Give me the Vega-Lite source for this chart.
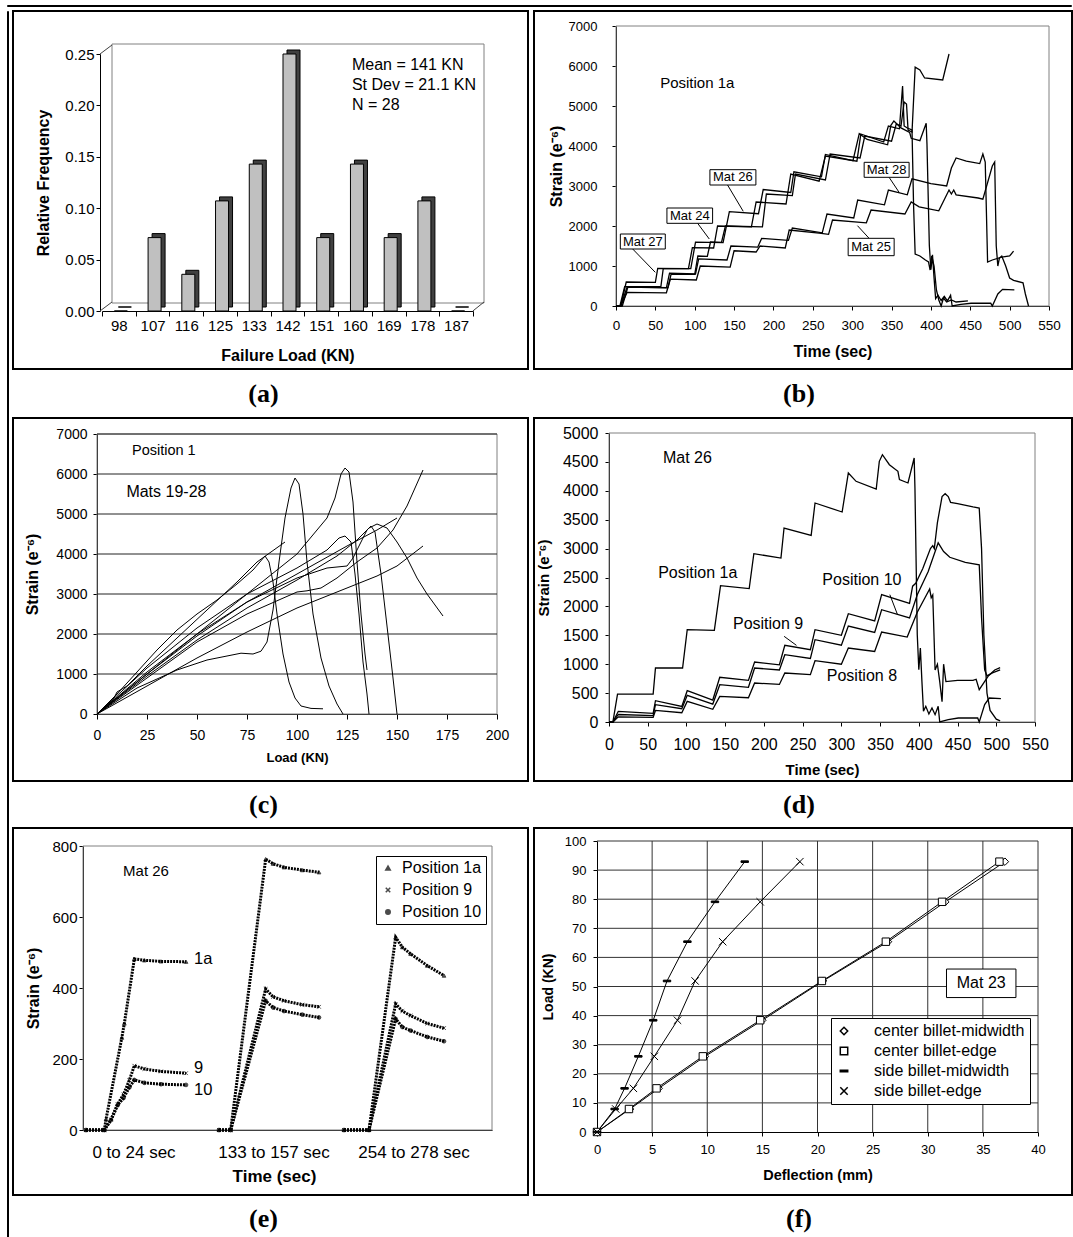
{
"$schema": "https://vega.github.io/schema/vega-lite/v6.json",
"padding": {"left": 6, "top": 4, "right": 0, "bottom": 0},
"background": "white",
"spacing": 3,
"datasets": {
"hist": [{"load":"98","y":0},{"load":"107","y":0.0714},{"load":"116","y":0.0357},{"load":"125","y":0.1071},{"load":"133","y":0.1429},{"load":"142","y":0.25},{"load":"151","y":0.0714},{"load":"160","y":0.1429},{"load":"169","y":0.0714},{"load":"178","y":0.1071},{"load":"187","y":0}],
"b": [
{"m":"27","x":0,"y":0},{"m":"27","x":6,"y":0},{"m":"27","x":13,"y":600},{"m":"27","x":50,"y":590},{"m":"27","x":53,"y":940},{"m":"27","x":92,"y":935},{"m":"27","x":97,"y":1460},{"m":"27","x":124,"y":1450},{"m":"27","x":129,"y":2000},{"m":"27","x":172,"y":1980},{"m":"27","x":178,"y":2600},{"m":"27","x":216,"y":2550},{"m":"27","x":222,"y":3300},{"m":"27","x":258,"y":3120},{"m":"27","x":266,"y":3750},{"m":"27","x":306,"y":3620},{"m":"27","x":311,"y":4300},{"m":"27","x":340,"y":4100},{"m":"27","x":346,"y":4500},{"m":"27","x":360,"y":4430},{"m":"27","x":364,"y":5500},{"m":"27","x":366,"y":4500},{"m":"27","x":370,"y":4450},{"m":"27","x":376,"y":4400},{"m":"27","x":378,"y":2500},{"m":"27","x":380,"y":1300},{"m":"27","x":386,"y":1250},{"m":"27","x":393,"y":1150},{"m":"27","x":397,"y":1100},{"m":"27","x":399,"y":900},{"m":"27","x":401,"y":1250},{"m":"27","x":404,"y":1000},{"m":"27","x":407,"y":400},{"m":"27","x":410,"y":150},{"m":"27","x":413,"y":0},{"m":"27","x":416,"y":200},{"m":"27","x":420,"y":100},{"m":"27","x":426,"y":150},{"m":"27","x":432,"y":100},{"m":"27","x":447,"y":130},
{"m":"24","x":0,"y":0},{"m":"24","x":8,"y":0},{"m":"24","x":15,"y":470},{"m":"24","x":66,"y":460},{"m":"24","x":70,"y":800},{"m":"24","x":100,"y":790},{"m":"24","x":104,"y":1250},{"m":"24","x":116,"y":1240},{"m":"24","x":120,"y":1600},{"m":"24","x":134,"y":1590},{"m":"24","x":139,"y":2000},{"m":"24","x":186,"y":1980},{"m":"24","x":191,"y":2800},{"m":"24","x":224,"y":2760},{"m":"24","x":228,"y":3300},{"m":"24","x":266,"y":3150},{"m":"24","x":272,"y":3800},{"m":"24","x":310,"y":3700},{"m":"24","x":316,"y":4250},{"m":"24","x":350,"y":4120},{"m":"24","x":356,"y":4550},{"m":"24","x":362,"y":4500},{"m":"24","x":366,"y":5100},{"m":"24","x":369,"y":5050},{"m":"24","x":371,"y":4400},{"m":"24","x":376,"y":4350},{"m":"24","x":380,"y":5970},{"m":"24","x":386,"y":5900},{"m":"24","x":392,"y":5700},{"m":"24","x":415,"y":5650},{"m":"24","x":423,"y":6300},
{"m":"26","x":0,"y":0},{"m":"26","x":5,"y":0},{"m":"26","x":11,"y":484},{"m":"26","x":57,"y":484},{"m":"26","x":60,"y":934},{"m":"26","x":95,"y":934},{"m":"26","x":101,"y":1597},{"m":"26","x":136,"y":1586},{"m":"26","x":144,"y":2359},{"m":"26","x":181,"y":2307},{"m":"26","x":187,"y":2912},{"m":"26","x":222,"y":2837},{"m":"26","x":226,"y":3356},{"m":"26","x":261,"y":3229},{"m":"26","x":266,"y":3789},{"m":"26","x":301,"y":3633},{"m":"26","x":309,"y":4308},{"m":"26","x":319,"y":4164},{"m":"26","x":345,"y":4031},{"m":"26","x":349,"y":4510},{"m":"26","x":353,"y":4625},{"m":"26","x":362,"y":4452},{"m":"26","x":373,"y":4337},{"m":"26","x":375,"y":4193},{"m":"26","x":386,"y":4135},{"m":"26","x":394,"y":4567},{"m":"26","x":395,"y":4048},{"m":"26","x":398,"y":1511},{"m":"26","x":400,"y":905},{"m":"26","x":402,"y":1280},{"m":"26","x":404,"y":703},{"m":"26","x":406,"y":185},{"m":"26","x":409,"y":271},{"m":"26","x":413,"y":138},{"m":"26","x":417,"y":242},{"m":"26","x":421,"y":127},{"m":"26","x":425,"y":271},{"m":"26","x":427,"y":0},{"m":"26","x":438,"y":40},{"m":"26","x":451,"y":69},{"m":"26","x":476,"y":69},{"m":"26","x":478,"y":0},{"m":"26","x":485,"y":300},{"m":"26","x":491,"y":415},{"m":"26","x":506,"y":404},
{"m":"28","x":0,"y":0},{"m":"28","x":6,"y":0},{"m":"28","x":14,"y":470},{"m":"28","x":64,"y":455},{"m":"28","x":68,"y":820},{"m":"28","x":101,"y":800},{"m":"28","x":105,"y":1180},{"m":"28","x":141,"y":1150},{"m":"28","x":146,"y":1500},{"m":"28","x":180,"y":1470},{"m":"28","x":185,"y":1690},{"m":"28","x":219,"y":1640},{"m":"28","x":224,"y":1950},{"m":"28","x":262,"y":1830},{"m":"28","x":268,"y":2300},{"m":"28","x":302,"y":2200},{"m":"28","x":307,"y":2650},{"m":"28","x":341,"y":2530},{"m":"28","x":346,"y":2900},{"m":"28","x":370,"y":2780},{"m":"28","x":376,"y":3180},{"m":"28","x":400,"y":3060},{"m":"28","x":420,"y":3000},{"m":"28","x":426,"y":3450},{"m":"28","x":432,"y":3700},{"m":"28","x":445,"y":3620},{"m":"28","x":462,"y":3560},{"m":"28","x":466,"y":3800},{"m":"28","x":469,"y":3600},{"m":"28","x":472,"y":1100},{"m":"28","x":478,"y":1150},{"m":"28","x":490,"y":1220},{"m":"28","x":500,"y":1250},{"m":"28","x":505,"y":1370},
{"m":"25","x":0,"y":0},{"m":"25","x":6,"y":0},{"m":"25","x":14,"y":340},{"m":"25","x":64,"y":330},{"m":"25","x":69,"y":670},{"m":"25","x":102,"y":650},{"m":"25","x":107,"y":1000},{"m":"25","x":145,"y":970},{"m":"25","x":150,"y":1380},{"m":"25","x":178,"y":1350},{"m":"25","x":183,"y":1500},{"m":"25","x":215,"y":1450},{"m":"25","x":220,"y":1900},{"m":"25","x":258,"y":1820},{"m":"25","x":270,"y":1790},{"m":"25","x":275,"y":2150},{"m":"25","x":318,"y":2080},{"m":"25","x":324,"y":2400},{"m":"25","x":367,"y":2300},{"m":"25","x":375,"y":2600},{"m":"25","x":385,"y":2480},{"m":"25","x":410,"y":2380},{"m":"25","x":418,"y":2700},{"m":"25","x":423,"y":2900},{"m":"25","x":426,"y":2800},{"m":"25","x":429,"y":2900},{"m":"25","x":432,"y":2780},{"m":"25","x":460,"y":2700},{"m":"25","x":466,"y":2670},{"m":"25","x":478,"y":3500},{"m":"25","x":481,"y":3600},{"m":"25","x":483,"y":1500},{"m":"25","x":485,"y":1000},{"m":"25","x":487,"y":1200},{"m":"25","x":490,"y":1250},{"m":"25","x":495,"y":1000},{"m":"25","x":500,"y":700},{"m":"25","x":505,"y":640},{"m":"25","x":517,"y":580},{"m":"25","x":520,"y":300},{"m":"25","x":524,"y":0}
],
"d": [
{"m":"1a","x":0,"y":0},{"m":"1a","x":5,"y":0},{"m":"1a","x":11,"y":484},{"m":"1a","x":57,"y":484},{"m":"1a","x":60,"y":934},{"m":"1a","x":95,"y":934},{"m":"1a","x":101,"y":1597},{"m":"1a","x":136,"y":1586},{"m":"1a","x":144,"y":2359},{"m":"1a","x":181,"y":2307},{"m":"1a","x":187,"y":2912},{"m":"1a","x":222,"y":2837},{"m":"1a","x":226,"y":3356},{"m":"1a","x":261,"y":3229},{"m":"1a","x":266,"y":3789},{"m":"1a","x":301,"y":3633},{"m":"1a","x":309,"y":4308},{"m":"1a","x":319,"y":4164},{"m":"1a","x":345,"y":4031},{"m":"1a","x":349,"y":4510},{"m":"1a","x":353,"y":4625},{"m":"1a","x":362,"y":4452},{"m":"1a","x":373,"y":4337},{"m":"1a","x":375,"y":4193},{"m":"1a","x":386,"y":4135},{"m":"1a","x":394,"y":4567},{"m":"1a","x":395,"y":4048},{"m":"1a","x":398,"y":1511},{"m":"1a","x":400,"y":905},{"m":"1a","x":402,"y":1280},{"m":"1a","x":404,"y":703},{"m":"1a","x":406,"y":185},{"m":"1a","x":409,"y":271},{"m":"1a","x":413,"y":138},{"m":"1a","x":417,"y":242},{"m":"1a","x":421,"y":127},{"m":"1a","x":425,"y":271},{"m":"1a","x":427,"y":0},{"m":"1a","x":438,"y":40},{"m":"1a","x":451,"y":69},{"m":"1a","x":476,"y":69},{"m":"1a","x":478,"y":0},{"m":"1a","x":485,"y":300},{"m":"1a","x":491,"y":415},{"m":"1a","x":506,"y":404},
{"m":"9","x":0,"y":0},{"m":"9","x":5,"y":0},{"m":"9","x":12,"y":185},{"m":"9","x":57,"y":150},{"m":"9","x":60,"y":369},{"m":"9","x":94,"y":270},{"m":"9","x":101,"y":542},{"m":"9","x":134,"y":380},{"m":"9","x":143,"y":773},{"m":"9","x":180,"y":720},{"m":"9","x":188,"y":1038},{"m":"9","x":220,"y":990},{"m":"9","x":227,"y":1326},{"m":"9","x":260,"y":1250},{"m":"9","x":266,"y":1597},{"m":"9","x":300,"y":1500},{"m":"9","x":309,"y":1874},{"m":"9","x":343,"y":1750},{"m":"9","x":352,"y":2203},{"m":"9","x":388,"y":2053},{"m":"9","x":392,"y":2350},{"m":"9","x":396,"y":2400},{"m":"9","x":405,"y":2650},{"m":"9","x":415,"y":3000},{"m":"9","x":418,"y":3050},{"m":"9","x":420,"y":3000},{"m":"9","x":424,"y":3450},{"m":"9","x":430,"y":3900},{"m":"9","x":434,"y":3950},{"m":"9","x":438,"y":3900},{"m":"9","x":441,"y":3800},{"m":"9","x":450,"y":3780},{"m":"9","x":470,"y":3720},{"m":"9","x":478,"y":3700},{"m":"9","x":481,"y":3000},{"m":"9","x":484,"y":1500},{"m":"9","x":488,"y":500},{"m":"9","x":492,"y":200},{"m":"9","x":500,"y":50},{"m":"9","x":505,"y":20},
{"m":"10","x":0,"y":0},{"m":"10","x":5,"y":0},{"m":"10","x":12,"y":130},{"m":"10","x":57,"y":110},{"m":"10","x":60,"y":300},{"m":"10","x":94,"y":230},{"m":"10","x":101,"y":461},{"m":"10","x":134,"y":310},{"m":"10","x":143,"y":646},{"m":"10","x":180,"y":600},{"m":"10","x":188,"y":934},{"m":"10","x":220,"y":900},{"m":"10","x":227,"y":1165},{"m":"10","x":260,"y":1100},{"m":"10","x":266,"y":1424},{"m":"10","x":300,"y":1330},{"m":"10","x":309,"y":1661},{"m":"10","x":343,"y":1550},{"m":"10","x":352,"y":1943},{"m":"10","x":388,"y":1800},{"m":"10","x":398,"y":2200},{"m":"10","x":412,"y":2600},{"m":"10","x":425,"y":3100},{"m":"10","x":432,"y":2950},{"m":"10","x":440,"y":2850},{"m":"10","x":460,"y":2760},{"m":"10","x":478,"y":2720},{"m":"10","x":481,"y":1800},{"m":"10","x":485,"y":900},{"m":"10","x":488,"y":800},{"m":"10","x":495,"y":850},{"m":"10","x":505,"y":900},
{"m":"8","x":0,"y":0},{"m":"8","x":5,"y":0},{"m":"8","x":12,"y":90},{"m":"8","x":57,"y":80},{"m":"8","x":60,"y":200},{"m":"8","x":94,"y":160},{"m":"8","x":101,"y":357},{"m":"8","x":134,"y":220},{"m":"8","x":143,"y":444},{"m":"8","x":180,"y":420},{"m":"8","x":188,"y":675},{"m":"8","x":220,"y":650},{"m":"8","x":227,"y":848},{"m":"8","x":260,"y":820},{"m":"8","x":266,"y":1061},{"m":"8","x":300,"y":1000},{"m":"8","x":309,"y":1280},{"m":"8","x":343,"y":1220},{"m":"8","x":352,"y":1557},{"m":"8","x":385,"y":1470},{"m":"8","x":398,"y":1900},{"m":"8","x":414,"y":2300},{"m":"8","x":416,"y":2150},{"m":"8","x":418,"y":2200},{"m":"8","x":421,"y":900},{"m":"8","x":424,"y":1000},{"m":"8","x":427,"y":700},{"m":"8","x":430,"y":350},{"m":"8","x":432,"y":1000},{"m":"8","x":435,"y":700},{"m":"8","x":450,"y":720},{"m":"8","x":470,"y":720},{"m":"8","x":474,"y":740},{"m":"8","x":478,"y":560},{"m":"8","x":490,"y":800},{"m":"8","x":498,"y":900},{"m":"8","x":505,"y":940}
],
"c": [
{"m":"a","x":0,"y":0},{"m":"a","x":8,"y":350},{"m":"a","x":10,"y":550},{"m":"a","x":15,"y":700},{"m":"a","x":25,"y":1200},{"m":"a","x":40,"y":1900},{"m":"a","x":55,"y":2600},{"m":"a","x":70,"y":3300},{"m":"a","x":80,"y":3800},{"m":"a","x":94,"y":4300},
{"m":"b","x":0,"y":0},{"m":"b","x":10,"y":500},{"m":"b","x":20,"y":1050},{"m":"b","x":30,"y":1600},{"m":"b","x":40,"y":2100},{"m":"b","x":50,"y":2500},{"m":"b","x":60,"y":2850},{"m":"b","x":70,"y":3250},{"m":"b","x":78,"y":3600},{"m":"b","x":84,"y":3950},{"m":"b","x":86,"y":3800},{"m":"b","x":88,"y":3300},{"m":"b","x":90,"y":2500},{"m":"b","x":93,"y":1500},{"m":"b","x":96,"y":800},{"m":"b","x":99,"y":400},{"m":"b","x":102,"y":200},{"m":"b","x":107,"y":140},{"m":"b","x":113,"y":130},
{"m":"c","x":0,"y":0},{"m":"c","x":20,"y":650},{"m":"c","x":40,"y":1100},{"m":"c","x":55,"y":1350},{"m":"c","x":68,"y":1480},{"m":"c","x":72,"y":1520},{"m":"c","x":78,"y":1500},{"m":"c","x":82,"y":1570},{"m":"c","x":85,"y":1800},{"m":"c","x":88,"y":2600},{"m":"c","x":91,"y":3800},{"m":"c","x":94,"y":4900},{"m":"c","x":97,"y":5650},{"m":"c","x":99,"y":5900},{"m":"c","x":101,"y":5750},{"m":"c","x":103,"y":5000},{"m":"c","x":105,"y":3800},{"m":"c","x":108,"y":2500},{"m":"c","x":112,"y":1400},{"m":"c","x":116,"y":700},{"m":"c","x":120,"y":250},{"m":"c","x":123,"y":0},
{"m":"d","x":0,"y":0},{"m":"d","x":25,"y":1000},{"m":"d","x":50,"y":2000},{"m":"d","x":75,"y":3000},{"m":"d","x":100,"y":4000},{"m":"d","x":110,"y":4600},{"m":"d","x":115,"y":4900},{"m":"d","x":119,"y":5400},{"m":"d","x":122,"y":6000},{"m":"d","x":124,"y":6150},{"m":"d","x":126,"y":6050},{"m":"d","x":128,"y":5300},{"m":"d","x":130,"y":3800},{"m":"d","x":132,"y":2500},{"m":"d","x":134,"y":1500},{"m":"d","x":135,"y":1100},
{"m":"e","x":0,"y":0},{"m":"e","x":25,"y":1150},{"m":"e","x":50,"y":2150},{"m":"e","x":75,"y":3000},{"m":"e","x":100,"y":3650},{"m":"e","x":115,"y":4100},{"m":"e","x":121,"y":4400},{"m":"e","x":124,"y":4450},{"m":"e","x":127,"y":4300},{"m":"e","x":129,"y":3500},{"m":"e","x":131,"y":2500},{"m":"e","x":133,"y":1300},{"m":"e","x":135,"y":500},{"m":"e","x":136,"y":0},
{"m":"f","x":0,"y":0},{"m":"f","x":25,"y":1050},{"m":"f","x":50,"y":2000},{"m":"f","x":75,"y":2800},{"m":"f","x":100,"y":3400},{"m":"f","x":115,"y":3650},{"m":"f","x":125,"y":3700},{"m":"f","x":128,"y":3900},{"m":"f","x":132,"y":4300},{"m":"f","x":135,"y":4600},{"m":"f","x":137,"y":4700},{"m":"f","x":139,"y":4550},{"m":"f","x":142,"y":3500},{"m":"f","x":145,"y":2200},{"m":"f","x":148,"y":900},{"m":"f","x":150,"y":0},
{"m":"g","x":0,"y":0},{"m":"g","x":25,"y":1000},{"m":"g","x":50,"y":1950},{"m":"g","x":75,"y":2800},{"m":"g","x":100,"y":3500},{"m":"g","x":125,"y":4200},{"m":"g","x":140,"y":4600},{"m":"g","x":150,"y":4900},
{"m":"h","x":0,"y":0},{"m":"h","x":25,"y":900},{"m":"h","x":50,"y":1800},{"m":"h","x":75,"y":2500},{"m":"h","x":100,"y":3050},{"m":"h","x":105,"y":3080},{"m":"h","x":112,"y":3150},{"m":"h","x":120,"y":3400},{"m":"h","x":130,"y":3800},{"m":"h","x":140,"y":4150},{"m":"h","x":148,"y":4600},{"m":"h","x":155,"y":5200},{"m":"h","x":163,"y":6100},
{"m":"i","x":0,"y":0},{"m":"i","x":25,"y":700},{"m":"i","x":50,"y":1400},{"m":"i","x":75,"y":2050},{"m":"i","x":100,"y":2650},{"m":"i","x":125,"y":3150},{"m":"i","x":140,"y":3450},{"m":"i","x":150,"y":3700},{"m":"i","x":163,"y":4200},
{"m":"j","x":0,"y":0},{"m":"j","x":25,"y":950},{"m":"j","x":50,"y":1850},{"m":"j","x":75,"y":2650},{"m":"j","x":100,"y":3350},{"m":"j","x":120,"y":3950},{"m":"j","x":130,"y":4350},{"m":"j","x":136,"y":4650},{"m":"j","x":140,"y":4750},{"m":"j","x":145,"y":4650},{"m":"j","x":150,"y":4300},{"m":"j","x":155,"y":3900},{"m":"j","x":160,"y":3400},{"m":"j","x":165,"y":3000},{"m":"j","x":173,"y":2450}
],
"e": [
{"seg":"s1","p":"Position 1a","x":0,"y":0},{"seg":"s1","p":"Position 1a","x":4.4,"y":0},{"seg":"s1","p":"Position 1a","x":4.8,"y":30},{"seg":"s1","p":"Position 1a","x":8.6,"y":260},{"seg":"s1","p":"Position 1a","x":9.2,"y":300},{"seg":"s1","p":"Position 1a","x":11.6,"y":482},{"seg":"s1","p":"Position 1a","x":14,"y":478},{"seg":"s1","p":"Position 1a","x":18,"y":475},{"seg":"s1","p":"Position 1a","x":24,"y":474},
{"seg":"s1","p":"Position 9","x":0,"y":0},{"seg":"s1","p":"Position 9","x":4.4,"y":0},{"seg":"s1","p":"Position 9","x":6,"y":30},{"seg":"s1","p":"Position 9","x":7.6,"y":73},{"seg":"s1","p":"Position 9","x":9,"y":100},{"seg":"s1","p":"Position 9","x":10.4,"y":140},{"seg":"s1","p":"Position 9","x":11.6,"y":181},{"seg":"s1","p":"Position 9","x":14,"y":172},{"seg":"s1","p":"Position 9","x":18,"y":165},{"seg":"s1","p":"Position 9","x":24,"y":160},
{"seg":"s1","p":"Position 10","x":0,"y":0},{"seg":"s1","p":"Position 10","x":4.4,"y":0},{"seg":"s1","p":"Position 10","x":6,"y":28},{"seg":"s1","p":"Position 10","x":7.6,"y":70},{"seg":"s1","p":"Position 10","x":9,"y":90},{"seg":"s1","p":"Position 10","x":10.4,"y":120},{"seg":"s1","p":"Position 10","x":11.6,"y":141},{"seg":"s1","p":"Position 10","x":14,"y":133},{"seg":"s1","p":"Position 10","x":18,"y":129},{"seg":"s1","p":"Position 10","x":24,"y":127},
{"seg":"s2","p":"Position 1a","x":0,"y":0},{"seg":"s2","p":"Position 1a","x":2.8,"y":0},{"seg":"s2","p":"Position 1a","x":11.2,"y":763},{"seg":"s2","p":"Position 1a","x":13,"y":750},{"seg":"s2","p":"Position 1a","x":15.6,"y":740},{"seg":"s2","p":"Position 1a","x":20,"y":732},{"seg":"s2","p":"Position 1a","x":24,"y":726},
{"seg":"s2","p":"Position 9","x":0,"y":0},{"seg":"s2","p":"Position 9","x":2.8,"y":0},{"seg":"s2","p":"Position 9","x":11.2,"y":397},{"seg":"s2","p":"Position 9","x":13,"y":375},{"seg":"s2","p":"Position 9","x":15.6,"y":364},{"seg":"s2","p":"Position 9","x":20,"y":353},{"seg":"s2","p":"Position 9","x":24,"y":347},
{"seg":"s2","p":"Position 10","x":0,"y":0},{"seg":"s2","p":"Position 10","x":2.8,"y":0},{"seg":"s2","p":"Position 10","x":11.2,"y":364},{"seg":"s2","p":"Position 10","x":13,"y":345},{"seg":"s2","p":"Position 10","x":15.6,"y":335},{"seg":"s2","p":"Position 10","x":20,"y":325},{"seg":"s2","p":"Position 10","x":24,"y":317},
{"seg":"s3","p":"Position 1a","x":0,"y":0},{"seg":"s3","p":"Position 1a","x":6,"y":0},{"seg":"s3","p":"Position 1a","x":12.4,"y":543},{"seg":"s3","p":"Position 1a","x":14,"y":515},{"seg":"s3","p":"Position 1a","x":16,"y":496},{"seg":"s3","p":"Position 1a","x":20,"y":463},{"seg":"s3","p":"Position 1a","x":24,"y":435},
{"seg":"s3","p":"Position 9","x":0,"y":0},{"seg":"s3","p":"Position 9","x":6,"y":0},{"seg":"s3","p":"Position 9","x":12.4,"y":355},{"seg":"s3","p":"Position 9","x":14,"y":335},{"seg":"s3","p":"Position 9","x":16,"y":322},{"seg":"s3","p":"Position 9","x":20,"y":300},{"seg":"s3","p":"Position 9","x":24,"y":287},
{"seg":"s3","p":"Position 10","x":0,"y":0},{"seg":"s3","p":"Position 10","x":6,"y":0},{"seg":"s3","p":"Position 10","x":12.4,"y":313},{"seg":"s3","p":"Position 10","x":14,"y":290},{"seg":"s3","p":"Position 10","x":16,"y":280},{"seg":"s3","p":"Position 10","x":20,"y":262},{"seg":"s3","p":"Position 10","x":24,"y":250}
],
"f": [
{"s":"center billet-midwidth","x":0,"y":0},{"s":"center billet-midwidth","x":3.0,"y":7.9},{"s":"center billet-midwidth","x":5.6,"y":15},{"s":"center billet-midwidth","x":9.8,"y":26},{"s":"center billet-midwidth","x":15.0,"y":38.4},{"s":"center billet-midwidth","x":20.5,"y":51.9},{"s":"center billet-midwidth","x":26.4,"y":65.4},{"s":"center billet-midwidth","x":31.6,"y":79.1},{"s":"center billet-midwidth","x":37.0,"y":92.9},
{"s":"center billet-edge","x":0,"y":0},{"s":"center billet-edge","x":2.9,"y":7.9},{"s":"center billet-edge","x":5.4,"y":15},{"s":"center billet-edge","x":9.6,"y":26},{"s":"center billet-edge","x":14.8,"y":38.4},{"s":"center billet-edge","x":20.4,"y":51.9},{"s":"center billet-edge","x":26.2,"y":65.4},{"s":"center billet-edge","x":31.3,"y":79.1},{"s":"center billet-edge","x":36.5,"y":92.9},
{"s":"side billet-midwidth","x":0,"y":0},{"s":"side billet-midwidth","x":1.6,"y":7.9},{"s":"side billet-midwidth","x":2.5,"y":15},{"s":"side billet-midwidth","x":3.75,"y":26},{"s":"side billet-midwidth","x":5.1,"y":38.4},{"s":"side billet-midwidth","x":6.35,"y":51.9},{"s":"side billet-midwidth","x":8.2,"y":65.4},{"s":"side billet-midwidth","x":10.7,"y":79.1},{"s":"side billet-midwidth","x":13.4,"y":92.9},
{"s":"side billet-edge","x":0,"y":0},{"s":"side billet-edge","x":1.7,"y":7.9},{"s":"side billet-edge","x":3.3,"y":15},{"s":"side billet-edge","x":5.2,"y":26},{"s":"side billet-edge","x":7.3,"y":38.4},{"s":"side billet-edge","x":8.9,"y":51.9},{"s":"side billet-edge","x":11.4,"y":65.4},{"s":"side billet-edge","x":14.8,"y":79.1},{"s":"side billet-edge","x":18.4,"y":92.9}
]
},
"vconcat": [
{"width": 1064, "height": 1, "view": {"stroke": "black", "strokeWidth": 1}, "data": {"values": [{}]}, "mark": {"type": "point", "size": 0, "strokeWidth": 0, "opacity": 0}},
{"hconcat": [
{"width": 1, "height": 1226, "view": {"stroke": "black", "strokeWidth": 1}, "data": {"values": [{}]}, "mark": {"type": "point", "size": 0, "strokeWidth": 0, "opacity": 0}},
{
"columns": 2,
"spacing": 6,
"bounds": "flush",
"resolve": {"scale": {"shape": "independent", "fill": "independent"}, "legend": {"shape": "independent"}},
"concat": [
{
"width": 515, "height": 358,
"resolve": {"scale": {"x": "independent"}},
"encoding": {"y": {"field": "y", "type": "quantitative", "scale": {"domain": [0, 0.25], "range": [300, 43], "nice": false, "zero": false}, "axis": {"orient": "left", "offset": -87, "values": [0, 0.05, 0.1, 0.15, 0.2, 0.25], "format": ".2f", "labelFontSize": 15, "tickSize": 4, "labelPadding": 2, "title": "Relative Frequency", "titleFontSize": 16, "titlePadding": 13}}},
"layer": [
{"data": {"values": [{"x": 0, "x2": 1, "y": 0, "y2": 0.25}]}, "mark": {"type": "rect", "fill": "transparent", "stroke": "#808080", "strokeWidth": 1, "yOffset": -8, "y2Offset": -10},
 "encoding": {"x": {"field": "x", "type": "quantitative", "scale": {"domain": [0, 1], "range": [99, 471], "nice": false, "zero": false}, "axis": null}, "x2": {"field": "x2"}, "y2": {"field": "y2"}}},
{"data": {"values": [{"x": -0.0323, "y": 0.25, "x2": 0, "y2": 0.25, "o": -10}, {"x": -0.0323, "y": 0, "x2": 0, "y2": 0, "o": -8}, {"x": 0.970, "y": 0, "x2": 1, "y2": 0, "o": -8}]}, "mark": {"type": "rule", "stroke": "#404040", "strokeWidth": 1, "y2Offset": -9},
 "encoding": {"x": {"field": "x", "type": "quantitative", "scale": {"domain": [0, 1], "range": [99, 471], "nice": false, "zero": false}, "axis": null}, "x2": {"field": "x2"}, "y2": {"field": "y2"}}},
{"data": {"name": "hist"}, "mark": {"type": "bar", "width": 13, "xOffset": 6, "yOffset": -4, "y2Offset": -4, "fill": "#404040", "stroke": "black", "strokeWidth": 1},
 "encoding": {"x": {"field": "load", "type": "nominal", "sort": null, "scale": {"type": "band", "domain": ["98","107","116","125","133","142","151","160","169","178","187"], "range": [89, 460], "paddingInner": 0, "paddingOuter": 0}, "axis": null}}},
{"data": {"name": "hist"}, "mark": {"type": "bar", "width": 13, "xOffset": 2, "fill": "#c0c0c0", "stroke": "black", "strokeWidth": 1},
 "encoding": {"x": {"field": "load", "type": "nominal", "sort": null, "scale": {"type": "band", "domain": ["98","107","116","125","133","142","151","160","169","178","187"], "range": [89, 460], "paddingInner": 0, "paddingOuter": 0}, "axis": {"orient": "bottom", "offset": -58, "tickBand": "extent", "labelFontSize": 15, "labelAngle": 0, "tickSize": 5, "labelPadding": 2, "title": "Failure Load (KN)", "titleFontSize": 16, "titlePadding": 14}}}},
{"data": {"values": [{"x": 0.645, "y": 0.239, "txt": "Mean = 141 KN"}, {"x": 0.645, "y": 0.2195, "txt": "St Dev = 21.1 KN"}, {"x": 0.645, "y": 0.2, "txt": "N = 28"}]}, "mark": {"type": "text", "align": "left", "baseline": "middle", "fontSize": 16},
 "encoding": {"x": {"field": "x", "type": "quantitative", "scale": {"domain": [0, 1], "range": [99, 471], "nice": false, "zero": false}, "axis": null}, "text": {"field": "txt"}}}
]
},
{
"width": 538, "height": 358,
"encoding": {
 "x": {"field": "x", "type": "quantitative", "scale": {"domain": [0, 550], "range": [82, 515], "nice": false, "zero": false}, "axis": {"orient": "bottom", "offset": -63, "values": [0,50,100,150,200,250,300,350,400,450,500,550], "labelFontSize": 13.5, "tickSize": 4, "labelPadding": 8, "title": "Time (sec)", "titleFontSize": 16, "titlePadding": 12}},
 "y": {"field": "y", "type": "quantitative", "scale": {"domain": [0, 7000], "range": [295, 15], "nice": false, "zero": false}, "axis": {"orient": "left", "offset": -82, "values": [0,1000,2000,3000,4000,5000,6000,7000], "format": "d", "labelFontSize": 13, "tickSize": 4, "labelPadding": 15, "title": "Strain (e⁻⁶)", "titleFontSize": 16, "titlePadding": 4}}
},
"layer": [
{"data": {"values": [{"x": 0, "y": 0, "x2": 550, "y2": 7000}]}, "mark": {"type": "rect", "fill": "transparent", "stroke": "#808080", "strokeWidth": 1}, "encoding": {"x2": {"field": "x2"}, "y2": {"field": "y2"}}},
{"data": {"name": "b"}, "mark": {"type": "line", "stroke": "black", "strokeWidth": 1.3}, "encoding": {"detail": {"field": "m"}}},
{"data": {"values": [{"x": 141.7, "y": 3025, "x2": 161.6, "y2": 2367}, {"x": 103.7, "y": 2067, "x2": 118.5, "y2": 1675}, {"x": 21.2, "y": 1425, "x2": 49.9, "y2": 842}, {"x": 346.9, "y": 3217, "x2": 359.6, "y2": 2842}, {"x": 321.5, "y": 1692, "x2": 306.7, "y2": 2008}]}, "mark": {"type": "rule", "stroke": "black", "strokeWidth": 1}, "encoding": {"x2": {"field": "x2"}, "y2": {"field": "y2"}}},
{"data": {"values": [{"x": 119.3, "y": 3025, "x2": 177.7, "y2": 3408}, {"x": 64.7, "y": 2067, "x2": 122.7, "y2": 2450}, {"x": 5.5, "y": 1425, "x2": 62.6, "y2": 1800}, {"x": 315.2, "y": 3217, "x2": 372.3, "y2": 3592}, {"x": 294.9, "y": 1258, "x2": 353.3, "y2": 1692}]}, "mark": {"type": "rect", "fill": "white", "stroke": "black", "strokeWidth": 1}, "encoding": {"x2": {"field": "x2"}, "y2": {"field": "y2"}}},
{"data": {"values": [{"x": 148.5, "y": 3217, "txt": "Mat 26"}, {"x": 93.7, "y": 2258, "txt": "Mat 24"}, {"x": 34, "y": 1612, "txt": "Mat 27"}, {"x": 343.7, "y": 3404, "txt": "Mat 28"}, {"x": 324.1, "y": 1475, "txt": "Mat 25"}]}, "mark": {"type": "text", "fontSize": 13}, "encoding": {"text": {"field": "txt"}}},
{"data": {"values": [{"x": 103.2, "y": 5567, "txt": "Position 1a"}]}, "mark": {"type": "text", "fontSize": 15}, "encoding": {"text": {"field": "txt"}}}
]
},
{"width": 515, "height": 37, "data": {"values": [{"t": "(a)"}]}, "mark": {"type": "text", "font": "Liberation Serif", "fontSize": 26, "fontWeight": "bold", "dx": -7}, "encoding": {"text": {"field": "t"}}},
{"width": 538, "height": 37, "data": {"values": [{"t": "(b)"}]}, "mark": {"type": "text", "font": "Liberation Serif", "fontSize": 26, "fontWeight": "bold", "dx": -4}, "encoding": {"text": {"field": "t"}}},
{
"width": 515, "height": 363,
"encoding": {
 "x": {"field": "x", "type": "quantitative", "scale": {"domain": [0, 200], "range": [84, 484], "nice": false, "zero": false}, "axis": {"orient": "bottom", "offset": -67, "values": [0,25,50,75,100,125,150,175,200], "labelFontSize": 14, "tickSize": 5, "labelPadding": 9, "title": "Load (KN)", "titleFontSize": 13, "titlePadding": 9}},
 "y": {"field": "y", "type": "quantitative", "scale": {"domain": [0, 7000], "range": [296, 16], "nice": false, "zero": false}, "axis": {"orient": "left", "offset": -84, "values": [0,1000,2000,3000,4000,5000,6000,7000], "format": "d", "labelFontSize": 14, "tickSize": 4, "labelPadding": 6, "title": "Strain (e⁻⁶)", "titleFontSize": 16, "titlePadding": 15}}
},
"layer": [
{"data": {"values": [{"x": 0, "y": 0, "x2": 200, "y2": 7000}]}, "mark": {"type": "rect", "fill": "transparent", "stroke": "#808080", "strokeWidth": 1}, "encoding": {"x2": {"field": "x2"}, "y2": {"field": "y2"}}},
{"data": {"values": [{"x":0,"y":1000,"x2":200,"y2":1000},{"x":0,"y":2000,"x2":200,"y2":2000},{"x":0,"y":3000,"x2":200,"y2":3000},{"x":0,"y":4000,"x2":200,"y2":4000},{"x":0,"y":5000,"x2":200,"y2":5000},{"x":0,"y":6000,"x2":200,"y2":6000},{"x":0,"y":7000,"x2":200,"y2":7000}]}, "mark": {"type": "rule", "stroke": "#222", "strokeWidth": 1}, "encoding": {"x2": {"field": "x2"}, "y2": {"field": "y2"}}},
{"data": {"name": "c"}, "mark": {"type": "line", "stroke": "black", "strokeWidth": 1}, "encoding": {"detail": {"field": "m"}}},
{"data": {"values": [{"x": 33.4, "y": 6585, "txt": "Position 1"}]}, "mark": {"type": "text", "fontSize": 14.5}, "encoding": {"text": {"field": "txt"}}},
{"data": {"values": [{"x": 34.7, "y": 5554, "txt": "Mats 19-28"}]}, "mark": {"type": "text", "fontSize": 16}, "encoding": {"text": {"field": "txt"}}}
]
},
{
"width": 538, "height": 363,
"encoding": {
 "x": {"field": "x", "type": "quantitative", "scale": {"domain": [0, 550], "range": [75, 501], "nice": false, "zero": false}, "axis": {"orient": "bottom", "offset": -59, "values": [0,50,100,150,200,250,300,350,400,450,500,550], "labelFontSize": 16, "tickSize": 4, "labelPadding": 10, "title": "Time (sec)", "titleFontSize": 15, "titlePadding": 10}},
 "y": {"field": "y", "type": "quantitative", "scale": {"domain": [0, 5000], "range": [304, 15], "nice": false, "zero": false}, "axis": {"orient": "left", "offset": -75, "values": [0,500,1000,1500,2000,2500,3000,3500,4000,4500,5000], "format": "d", "labelFontSize": 16, "tickSize": 4, "labelPadding": 7, "title": "Strain (e⁻⁶)", "titleFontSize": 15, "titlePadding": 11}}
},
"layer": [
{"data": {"values": [{"x": 0, "y": 0, "x2": 550, "y2": 5000}]}, "mark": {"type": "rect", "fill": "transparent", "stroke": "#808080", "strokeWidth": 1}, "encoding": {"x2": {"field": "x2"}, "y2": {"field": "y2"}}},
{"data": {"name": "d"}, "mark": {"type": "line", "stroke": "black", "strokeWidth": 1.3}, "encoding": {"detail": {"field": "m"}}},
{"data": {"values": [{"x": 362.6, "y": 2203, "x2": 372.5, "y2": 1857}, {"x": 226.1, "y": 1482, "x2": 242, "y2": 1326}]}, "mark": {"type": "rule", "stroke": "black", "strokeWidth": 1}, "encoding": {"x2": {"field": "x2"}, "y2": {"field": "y2"}}},
{"data": {"values": [{"x": 101.2, "y": 4567, "txt": "Mat 26"}, {"x": 114.6, "y": 2578, "txt": "Position 1a"}, {"x": 326.5, "y": 2451, "txt": "Position 10"}, {"x": 205.4, "y": 1701, "txt": "Position 9"}, {"x": 326.5, "y": 790, "txt": "Position 8"}]}, "mark": {"type": "text", "fontSize": 16}, "encoding": {"text": {"field": "txt"}}}
]
},
{"width": 515, "height": 35, "data": {"values": [{"t": "(c)"}]}, "mark": {"type": "text", "font": "Liberation Serif", "fontSize": 26, "fontWeight": "bold", "dx": -7}, "encoding": {"text": {"field": "t"}}},
{"width": 538, "height": 35, "data": {"values": [{"t": "(d)"}]}, "mark": {"type": "text", "font": "Liberation Serif", "fontSize": 26, "fontWeight": "bold", "dx": -4}, "encoding": {"text": {"field": "t"}}},
{
"width": 515, "height": 367,
"resolve": {"scale": {"x": "independent"}},
"encoding": {"y": {"field": "y", "type": "quantitative", "scale": {"domain": [0, 800], "range": [302, 18], "nice": false, "zero": false}, "axis": {"orient": "left", "offset": -70, "values": [0,200,400,600,800], "labelFontSize": 15, "tickSize": 4, "labelPadding": 2, "title": "Strain (e⁻⁶)", "titleFontSize": 16, "titlePadding": 10}}},
"layer": [
{"data": {"values": [{"x": 0, "x2": 1, "y": 0, "y2": 800}]}, "mark": {"type": "rect", "fill": "transparent", "stroke": "#808080", "strokeWidth": 1},
 "encoding": {"x": {"field": "x", "type": "quantitative", "scale": {"domain": [0, 1], "range": [70, 479], "nice": false, "zero": false}, "axis": {"orient": "bottom", "offset": -65, "domain": true, "ticks": false, "labels": false, "title": null}}, "x2": {"field": "x2"}, "y2": {"field": "y2"}}},
{"data": {"values": [{"seg": "0 to 24 sec", "y": 0}, {"seg": "133 to 157 sec", "y": 0}, {"seg": "254 to 278 sec", "y": 0}]}, "mark": {"type": "text", "text": ""},
 "encoding": {"x": {"field": "seg", "type": "nominal", "sort": null, "scale": {"type": "band", "domain": ["0 to 24 sec", "133 to 157 sec", "254 to 278 sec"], "range": [51, 471], "paddingInner": 0, "paddingOuter": 0}, "axis": {"orient": "bottom", "offset": -65, "domain": false, "ticks": false, "labelFontSize": 17, "labelPadding": 14, "labelAngle": 0, "title": "Time (sec)", "titleFontSize": 17, "titlePadding": 8}}}},
{"data": {"name": "e"}, "transform": [{"filter": "datum.seg === 's1'"}], "mark": {"type": "line", "stroke": "black", "strokeWidth": 3, "strokeDash": [2, 1]},
 "encoding": {"x": {"field": "x", "type": "quantitative", "scale": {"domain": [0, 24], "range": [73, 173], "nice": false, "zero": false}, "axis": null}, "detail": {"field": "p"}}},
{"data": {"name": "e"}, "transform": [{"filter": "datum.seg === 's2'"}], "mark": {"type": "line", "stroke": "black", "strokeWidth": 3, "strokeDash": [2, 1]},
 "encoding": {"x": {"field": "x", "type": "quantitative", "scale": {"domain": [0, 24], "range": [206, 306], "nice": false, "zero": false}, "axis": null}, "detail": {"field": "p"}}},
{"data": {"name": "e"}, "transform": [{"filter": "datum.seg === 's3'"}], "mark": {"type": "line", "stroke": "black", "strokeWidth": 3, "strokeDash": [2, 1]},
 "encoding": {"x": {"field": "x", "type": "quantitative", "scale": {"domain": [0, 24], "range": [331, 431], "nice": false, "zero": false}, "axis": null}, "detail": {"field": "p"}}},
{"data": {"name": "e"}, "transform": [{"filter": "datum.seg === 's1'"}], "mark": {"type": "point", "filled": true, "fill": "black", "stroke": "black", "strokeWidth": 1, "size": 14},
 "encoding": {"x": {"field": "x", "type": "quantitative", "scale": {"domain": [0, 24], "range": [73, 173], "nice": false, "zero": false}, "axis": null},
  "shape": {"field": "p", "type": "nominal", "scale": {"domain": ["Position 1a", "Position 9", "Position 10"], "range": ["triangle-up", "M-1,-1L1,1M-1,1L1,-1", "circle"]}, "legend": {"title": null, "orient": "none", "legendX": 363, "legendY": 28, "strokeColor": "black", "fillColor": "white", "padding": 4, "labelFontSize": 16, "rowPadding": 6, "symbolSize": 20, "labelOffset": 6, "encode": {"symbols": {"update": {"fill": {"value": "black"}, "stroke": {"value": "black"}, "strokeWidth": {"value": 1}, "opacity": {"value": 1}}}}}}}},
{"data": {"name": "e"}, "transform": [{"filter": "datum.seg === 's2'"}], "mark": {"type": "point", "filled": true, "fill": "black", "stroke": "black", "strokeWidth": 1, "size": 14},
 "encoding": {"x": {"field": "x", "type": "quantitative", "scale": {"domain": [0, 24], "range": [206, 306], "nice": false, "zero": false}, "axis": null},
  "shape": {"field": "p", "type": "nominal", "scale": {"domain": ["Position 1a", "Position 9", "Position 10"], "range": ["triangle-up", "M-1,-1L1,1M-1,1L1,-1", "circle"]}, "legend": {"title": null, "orient": "none", "legendX": 363, "legendY": 28, "strokeColor": "black", "fillColor": "white", "padding": 4, "labelFontSize": 16, "rowPadding": 6, "symbolSize": 20, "labelOffset": 6, "encode": {"symbols": {"update": {"fill": {"value": "black"}, "stroke": {"value": "black"}, "strokeWidth": {"value": 1}, "opacity": {"value": 1}}}}}}}},
{"data": {"name": "e"}, "transform": [{"filter": "datum.seg === 's3'"}], "mark": {"type": "point", "filled": true, "fill": "black", "stroke": "black", "strokeWidth": 1, "size": 14},
 "encoding": {"x": {"field": "x", "type": "quantitative", "scale": {"domain": [0, 24], "range": [331, 431], "nice": false, "zero": false}, "axis": null},
  "shape": {"field": "p", "type": "nominal", "scale": {"domain": ["Position 1a", "Position 9", "Position 10"], "range": ["triangle-up", "M-1,-1L1,1M-1,1L1,-1", "circle"]}, "legend": {"title": null, "orient": "none", "legendX": 363, "legendY": 28, "strokeColor": "black", "fillColor": "white", "padding": 4, "labelFontSize": 16, "rowPadding": 6, "symbolSize": 20, "labelOffset": 6, "encode": {"symbols": {"update": {"fill": {"value": "black"}, "stroke": {"value": "black"}, "strokeWidth": {"value": 1}, "opacity": {"value": 1}}}}}}}},
{"data": {"values": [{"x": 24, "y": 482, "txt": "1a"}, {"x": 24, "y": 175, "txt": "9"}, {"x": 24, "y": 113, "txt": "10"}]}, "mark": {"type": "text", "align": "left", "dx": 8, "fontSize": 16.5},
 "encoding": {"x": {"field": "x", "type": "quantitative", "scale": {"domain": [0, 24], "range": [73, 173], "nice": false, "zero": false}, "axis": null}, "text": {"field": "txt"}}},
{"data": {"values": [{"x": 8.9, "y": 730, "txt": "Mat 26"}]}, "mark": {"type": "text", "align": "left", "fontSize": 15},
 "encoding": {"x": {"field": "x", "type": "quantitative", "scale": {"domain": [0, 24], "range": [73, 173], "nice": false, "zero": false}, "axis": null}, "text": {"field": "txt"}}}
]
},
{
"width": 538, "height": 367,
"encoding": {
 "x": {"field": "x", "type": "quantitative", "scale": {"domain": [0, 40], "range": [63, 504], "nice": false, "zero": false}, "axis": {"orient": "bottom", "offset": -63, "values": [0,5,10,15,20,25,30,35,40], "labelFontSize": 13, "tickSize": 4, "labelPadding": 7, "title": "Deflection (mm)", "titleFontSize": 14.5, "titlePadding": 12}},
 "y": {"field": "y", "type": "quantitative", "scale": {"domain": [0, 100], "range": [304, 13], "nice": false, "zero": false}, "axis": {"orient": "left", "offset": -63, "values": [0,10,20,30,40,50,60,70,80,90,100], "labelFontSize": 13, "tickSize": 4, "labelPadding": 7, "title": "Load (KN)", "titleFontSize": 14, "titlePadding": 9}}
},
"layer": [
{"data": {"values": [{"x":5,"y":0,"x2":5,"y2":100},{"x":10,"y":0,"x2":10,"y2":100},{"x":15,"y":0,"x2":15,"y2":100},{"x":20,"y":0,"x2":20,"y2":100},{"x":25,"y":0,"x2":25,"y2":100},{"x":30,"y":0,"x2":30,"y2":100},{"x":35,"y":0,"x2":35,"y2":100},{"x":40,"y":0,"x2":40,"y2":100},{"x":0,"y":10,"x2":40,"y2":10},{"x":0,"y":20,"x2":40,"y2":20},{"x":0,"y":30,"x2":40,"y2":30},{"x":0,"y":40,"x2":40,"y2":40},{"x":0,"y":50,"x2":40,"y2":50},{"x":0,"y":60,"x2":40,"y2":60},{"x":0,"y":70,"x2":40,"y2":70},{"x":0,"y":80,"x2":40,"y2":80},{"x":0,"y":90,"x2":40,"y2":90},{"x":0,"y":100,"x2":40,"y2":100}]}, "mark": {"type": "rule", "stroke": "#333", "strokeWidth": 1}, "encoding": {"x2": {"field": "x2"}, "y2": {"field": "y2"}}},
{"data": {"name": "f"}, "mark": {"type": "line", "stroke": "black", "strokeWidth": 1}, "encoding": {"detail": {"field": "s"}}},
{"data": {"name": "f"}, "mark": {"type": "point", "filled": true, "stroke": "black", "strokeWidth": 1, "opacity": 1, "size": 55},
 "encoding": {
  "fill": {"field": "s", "type": "nominal", "scale": {"domain": ["center billet-midwidth", "center billet-edge", "side billet-midwidth", "side billet-edge"], "range": ["white", "white", "black", "white"]}, "legend": null},
  "shape": {"field": "s", "type": "nominal", "scale": {"domain": ["center billet-midwidth", "center billet-edge", "side billet-midwidth", "side billet-edge"], "range": ["diamond", "square", "M-1,-0.22H1V0.22H-1Z", "M-1,-1L1,1M-1,1L1,-1"]},
  "legend": {"title": null, "orient": "none", "legendX": 297, "legendY": 190, "strokeColor": "black", "fillColor": "white", "padding": 5, "labelFontSize": 16, "rowPadding": 4, "symbolSize": 55, "labelOffset": 22, "encode": {"symbols": {"update": {"fill": {"signal": "datum.value === 'side billet-midwidth' ? 'black' : 'white'"}, "stroke": {"value": "black"}, "strokeWidth": {"value": 1}, "opacity": {"value": 1}, "xc": {"value": 16}}}}}}}},
{"data": {"values": [{"x": 31.7, "y": 46.2, "x2": 38, "y2": 56}]}, "mark": {"type": "rect", "fill": "white", "stroke": "black", "strokeWidth": 1}, "encoding": {"x2": {"field": "x2"}, "y2": {"field": "y2"}}},
{"data": {"values": [{"x": 34.85, "y": 51.1, "txt": "Mat 23"}]}, "mark": {"type": "text", "fontSize": 16}, "encoding": {"text": {"field": "txt"}}}
]
},
{"width": 515, "height": 36, "data": {"values": [{"t": "(e)"}]}, "mark": {"type": "text", "font": "Liberation Serif", "fontSize": 26, "fontWeight": "bold", "dx": -7}, "encoding": {"text": {"field": "t"}}},
{"width": 538, "height": 36, "data": {"values": [{"t": "(f)"}]}, "mark": {"type": "text", "font": "Liberation Serif", "fontSize": 26, "fontWeight": "bold", "dx": -4}, "encoding": {"text": {"field": "t"}}}
]
}
], "spacing": 3}
],
"config": {
 "view": {"stroke": "black", "strokeWidth": 2},
 "font": "Liberation Sans",
 "axis": {"labelFont": "Liberation Sans", "titleFont": "Liberation Sans", "labelColor": "black", "titleColor": "black", "domainColor": "black", "tickColor": "black", "domainWidth": 1, "tickWidth": 1, "labelFlush": false, "labelOverlap": false, "grid": false, "titleFontWeight": "bold"},
 "legend": {"labelFont": "Liberation Sans", "labelColor": "black"},
 "text": {"font": "Liberation Sans", "color": "black"}
}
}
